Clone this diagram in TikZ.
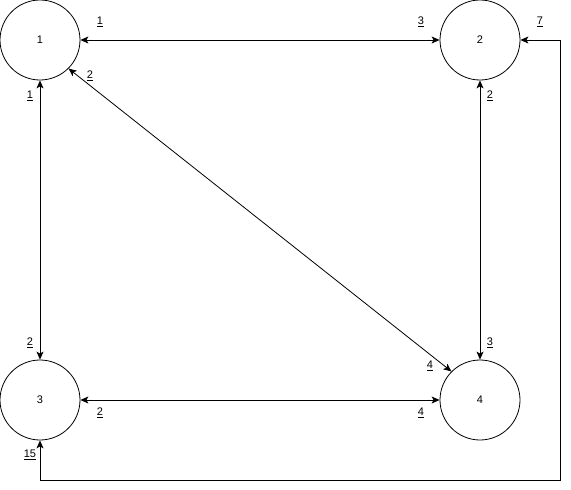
\documentclass[tikz,border=0pt]{standalone}
\usepackage{fontspec}
\setmainfont{Liberation Sans}
\usetikzlibrary{arrows.meta}
\begin{document}
\begin{tikzpicture}[x=1pt,y=-1pt,
  state/.style={circle,draw,line width=0.8pt,minimum size=80pt,inner sep=0pt,font=\fontsize{11}{13}\selectfont},
  lbl/.style={inner sep=0pt,font=\fontsize{11}{13}\selectfont},
  conn/.style={line width=0.8pt,{Stealth[length=8pt,width=7pt,inset=2pt]}-{Stealth[length=8pt,width=7pt,inset=2pt]}}]
\useasboundingbox (0,0) rectangle (571,490);
\node[state] (n1) at (40,40) {1};
\node[state] (n2) at (480,40) {2};
\node[state] (n3) at (40,400) {3};
\node[state] (n4) at (480,400) {4};
\coordinate (c2) at (560.5,480);
\draw[conn] (n1) -- (n2);
\draw[conn] (n1) -- (n3);
\draw[conn] (n2) -- (n4);
\draw[conn] (n3) -- (n4);
\draw[conn] (n1.-45) -- (n4.135);
\draw[conn] (n3.south) |- (c2) |- (n2.east);
\node[lbl] (l1) at (100,22) {\underline{1}};
\node[lbl] (l2) at (421,22) {\underline{3}};
\node[lbl] (l3) at (540,22) {\underline{7}};
\node[lbl] (l4) at (90,76) {\underline{2}};
\node[lbl] (l5) at (30,96) {\underline{1}};
\node[lbl] (l6) at (490,96) {\underline{2}};
\node[lbl] (l7) at (30,343) {\underline{2}};
\node[lbl] (l8) at (490,343) {\underline{3}};
\node[lbl] (l9) at (430,366) {\underline{4}};
\node[lbl] (l10) at (100,413) {\underline{2}};
\node[lbl] (l11) at (421,413) {\underline{4}};
\node[lbl] (l12) at (30,455) {\underline{15}};
\end{tikzpicture}
\end{document}
